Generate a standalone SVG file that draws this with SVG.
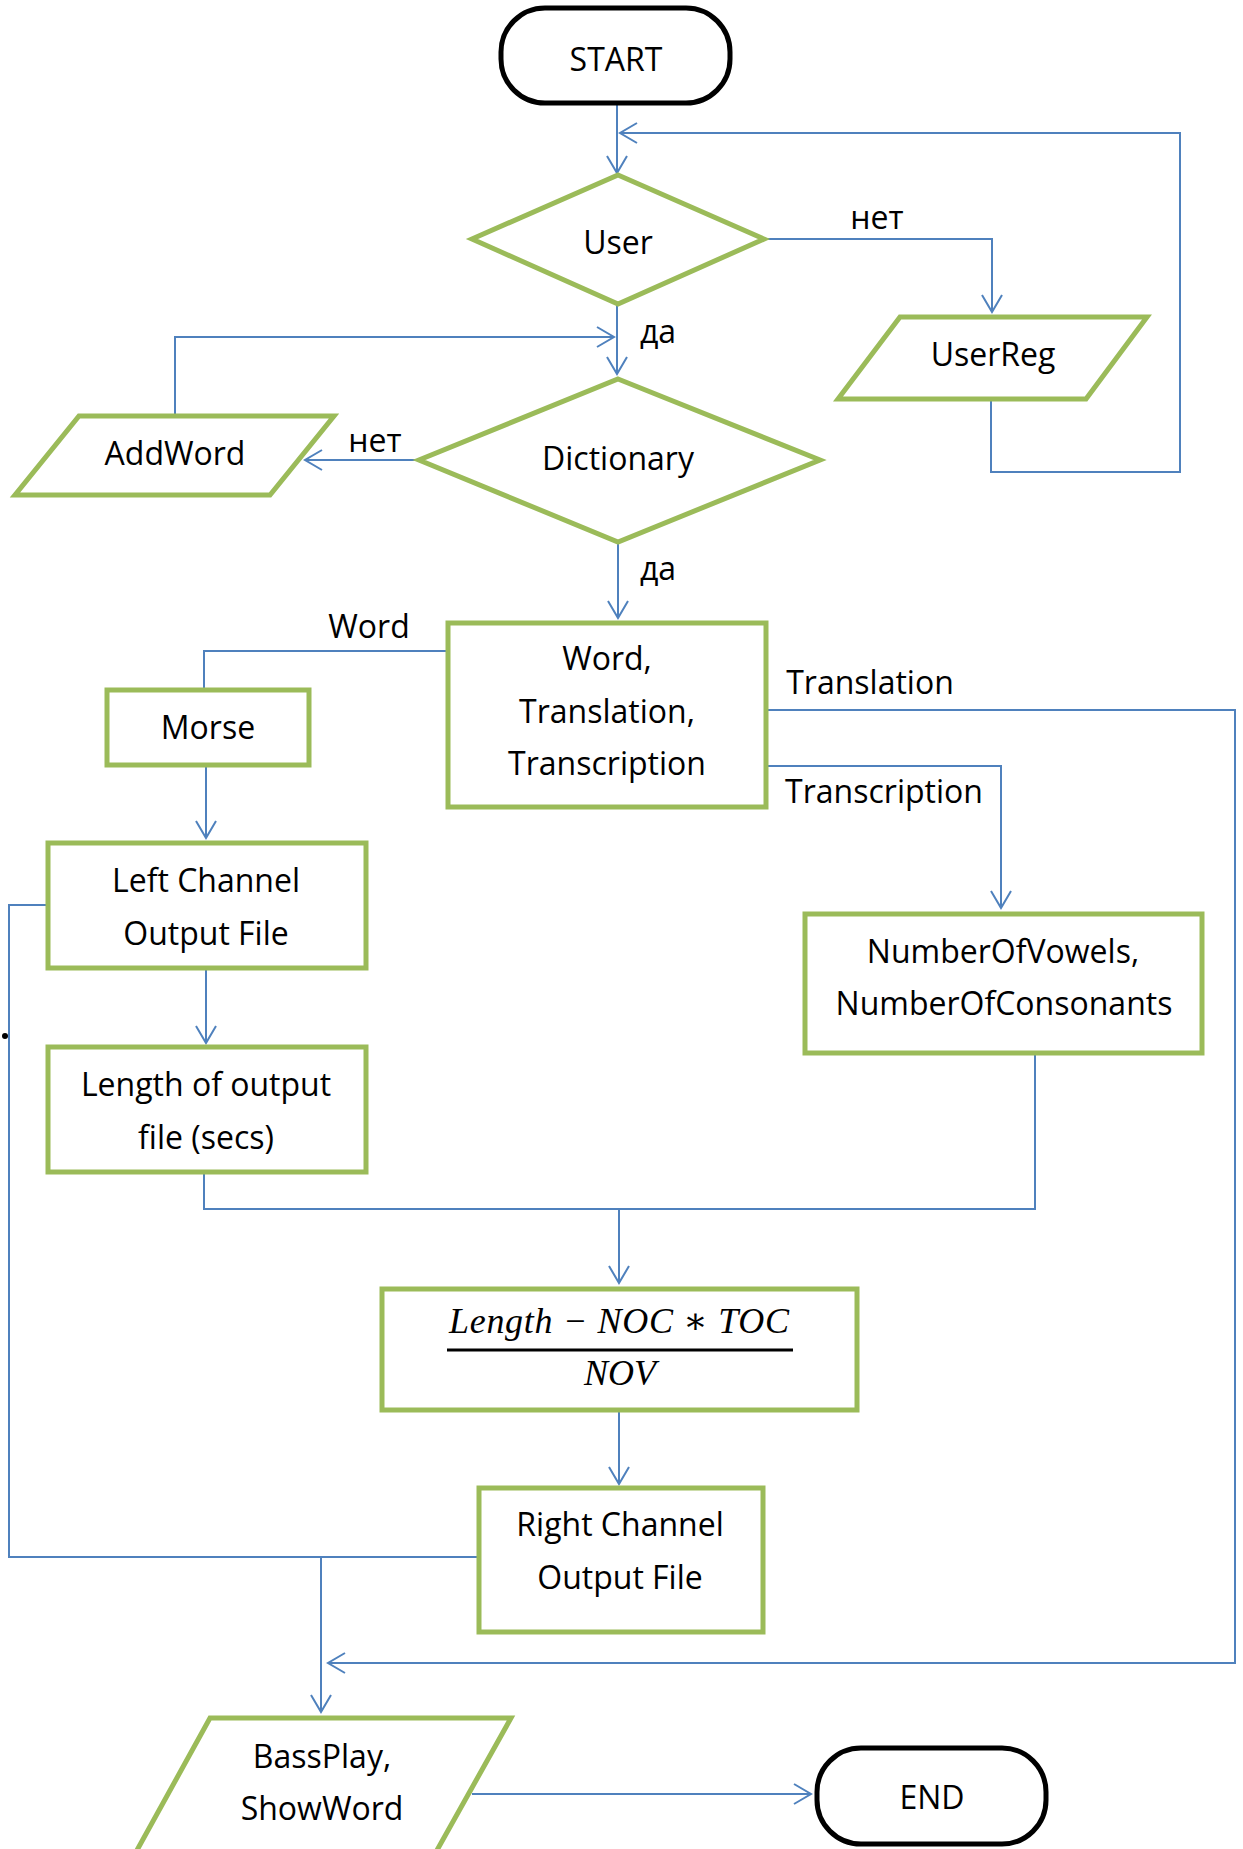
<svg xmlns="http://www.w3.org/2000/svg" width="1243" height="1849" viewBox="0 0 1243 1849">
<style>
.t{font-family:"Open Sans","Liberation Sans",sans-serif;font-size:32px;fill:#000;text-anchor:middle}
.g{fill:#fff;stroke:#9bbb59;stroke-width:5}
.k{fill:#fff;stroke:#000;stroke-width:5}
.c{fill:none;stroke:#4f81bd;stroke-width:2}
.m{font-family:"Liberation Serif","DejaVu Serif",serif;font-style:italic;font-size:36px;fill:#000;text-anchor:middle}
</style>
<defs>
<marker id="a" markerUnits="userSpaceOnUse" markerWidth="20" markerHeight="22" refX="18" refY="11" orient="auto" viewBox="0 0 20 22">
<path d="M1,1 L18,11 L1,21" fill="none" stroke="#4f81bd" stroke-width="2"/>
</marker>
</defs>
<rect width="1243" height="1849" fill="#fff"/>
<g id="connectors">
<path class="c" d="M617,103 V173" marker-end="url(#a)"/>
<path class="c" d="M991,399 V472 H1180 V133 H620" marker-end="url(#a)"/>
<path class="c" d="M764,239 H992 V312" marker-end="url(#a)"/>
<path class="c" d="M617,304 V374" marker-end="url(#a)"/>
<path class="c" d="M175,415 V337 H614" marker-end="url(#a)"/>
<path class="c" d="M419,460 H305" marker-end="url(#a)"/>
<path class="c" d="M618,542 V618" marker-end="url(#a)"/>
<path class="c" d="M448,651 H204 V690"/>
<path class="c" d="M206,765 V838" marker-end="url(#a)"/>
<path class="c" d="M206,968 V1043" marker-end="url(#a)"/>
<path class="c" d="M48,905 H9 V1557 H477"/>
<path class="c" d="M321,1557 V1712" marker-end="url(#a)"/>
<path class="c" d="M766,710 H1235 V1663 H328" marker-end="url(#a)"/>
<path class="c" d="M766,766 H1001 V908" marker-end="url(#a)"/>
<path class="c" d="M1035,1053 V1209 H204 V1172"/>
<path class="c" d="M619,1209 V1283" marker-end="url(#a)"/>
<path class="c" d="M619,1410 V1484" marker-end="url(#a)"/>
<path class="c" d="M472,1794 H811" marker-end="url(#a)"/>
<circle cx="5" cy="1036" r="3" fill="#000"/>
<text class="t" x="877" y="229">нет</text>
<text class="t" x="658" y="343">да</text>
<text class="t" x="375" y="452">нет</text>
<text class="t" x="658" y="580">да</text>
<text class="t" x="369" y="638">Word</text>
<text class="t" x="870" y="694">Translation</text>
<text class="t" x="884" y="803">Transcription</text>
</g>
<g id="start">
<rect class="k" x="501" y="8" width="229" height="95" rx="44" ry="44"/>
<text class="t" x="616" y="71">START</text>
</g>
<g id="user">
<polygon class="g" points="618,175 764,239 618,304 472,239"/>
<text class="t" x="618" y="254">User</text>
</g>
<g id="userreg">
<polygon class="g" points="900,317 1147,317 1086,399 838,399"/>
<text class="t" x="993" y="366">UserReg</text>
</g>
<g id="dictionary">
<polygon class="g" points="618,379 820,460 618,542 419,460"/>
<text class="t" x="618" y="470">Dictionary</text>
</g>
<g id="addword">
<polygon class="g" points="79,416 334,416 270,495 15,495"/>
<text class="t" x="175" y="465">AddWord</text>
</g>
<g id="wordbox">
<rect class="g" x="448" y="623" width="318" height="184"/>
<text class="t" x="607" y="670">Word,</text>
<text class="t" x="607" y="723">Translation,</text>
<text class="t" x="607" y="775">Transcription</text>
</g>
<g id="morse">
<rect class="g" x="107" y="690" width="202" height="75"/>
<text class="t" x="208" y="739">Morse</text>
</g>
<g id="leftchannel">
<rect class="g" x="48" y="843" width="318" height="125"/>
<text class="t" x="206" y="892">Left Channel</text>
<text class="t" x="206" y="945">Output File</text>
</g>
<g id="length">
<rect class="g" x="48" y="1047" width="318" height="125"/>
<text class="t" x="206" y="1096">Length of output</text>
<text class="t" x="206" y="1149">file (secs)</text>
</g>
<g id="counts">
<rect class="g" x="805" y="914" width="397" height="139"/>
<text class="t" x="1003" y="963">NumberOfVowels,</text>
<text class="t" x="1004" y="1015">NumberOfConsonants</text>
</g>
<g id="formula">
<rect class="g" x="382" y="1289" width="475" height="121"/>
<text class="m" x="619" y="1333" textLength="340" lengthAdjust="spacing">Length − NOC ∗ TOC</text>
<line x1="447" y1="1350" x2="793" y2="1350" stroke="#000" stroke-width="3"/>
<text class="m" x="620" y="1385">NOV</text>
</g>
<g id="rightchannel">
<rect class="g" x="479" y="1488" width="284" height="144"/>
<text class="t" x="620" y="1536">Right Channel</text>
<text class="t" x="620" y="1589">Output File</text>
</g>
<g id="bassplay">
<polygon class="g" points="210,1718 511,1718 436,1852 136,1852"/>
<text class="t" x="322" y="1768">BassPlay,</text>
<text class="t" x="322" y="1820">ShowWord</text>
</g>
<g id="end">
<rect class="k" x="817" y="1748" width="229" height="96" rx="44" ry="44"/>
<text class="t" x="932" y="1809">END</text>
</g>
</svg>
